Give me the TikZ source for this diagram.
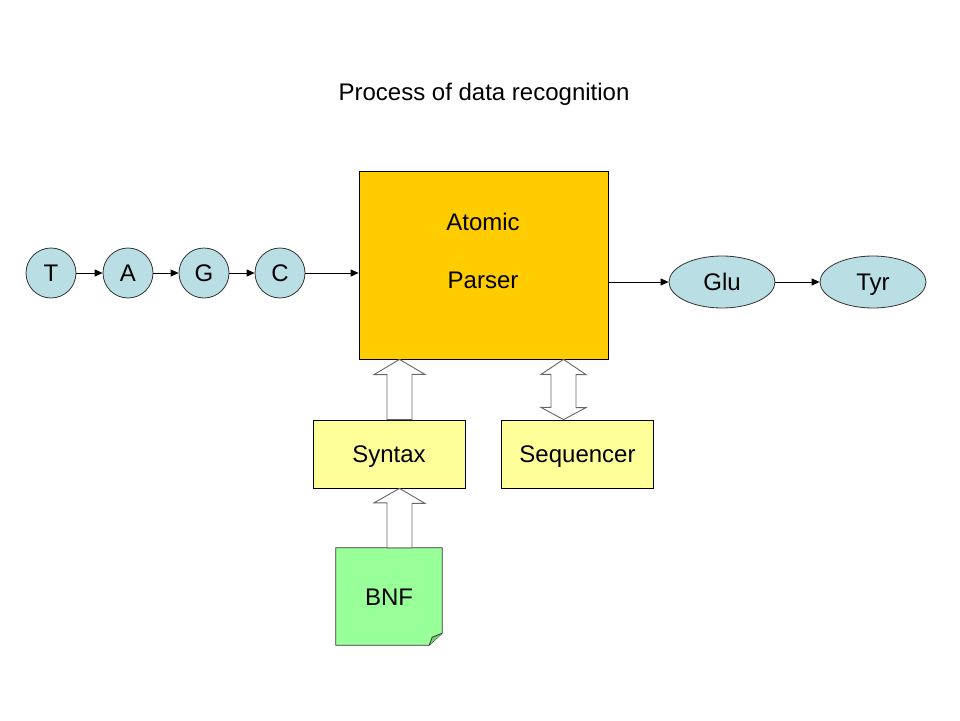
\documentclass[tikz,border=0pt]{standalone}
\usepackage{fontspec}
\setmainfont{Liberation Sans}
\usetikzlibrary{arrows.meta,shapes.geometric,calc}
\definecolor{baseblue}{HTML}{B9DFE4}
\definecolor{parserorange}{HTML}{FFCC00}
\definecolor{partyellow}{HTML}{FFFF99}
\definecolor{notegreen}{HTML}{99FF99}
\definecolor{foldgreen}{HTML}{77CC77}
\tikzset{
  every node/.style={font=\fontsize{24}{28}\selectfont, inner sep=0pt, text height=17, text depth=0},
  base/.style={circle, draw=black!80, fill=baseblue, line width=0.8pt, minimum size=50},
  acid/.style={ellipse, draw=black!80, fill=baseblue, line width=0.8pt, minimum width=106, minimum height=52},
  part/.style={rectangle, draw=black, fill=partyellow, line width=0.8pt, minimum width=152, minimum height=68},
  flow/.style={-{Triangle[length=8pt,width=7pt]}, line width=0.8pt},
  blockarrow/.style={draw=black!60, fill=white, line width=0.9pt, line join=miter}
}
\begin{document}
\begin{tikzpicture}[x=1pt, y=-1pt]
\useasboundingbox (0,0) rectangle (960,720);
\node (title) at (484,92) {Process of data recognition};
% bases
\node[base] (t) at (51,273) {T};
\node[base] (a) at (128,273) {A};
\node[base] (g) at (204,273) {G};
\node[base] (c) at (280,273) {C};
\draw[flow] (t) -- (a);
\draw[flow] (a) -- (g);
\draw[flow] (g) -- (c);
% parser
\node[rectangle, draw=black, fill=parserorange, line width=0.8pt, minimum width=249, minimum height=188] (parser) at (483.5,265) {};
\node (atomic) at (483,222) {Atomic};
\node (parsertext) at (483,280) {Parser};
\draw[flow] (c.east) -- (parser.west |- c.east);
% amino acids
\node[acid] (glu) at (722,282) {Glu};
\node[acid] (tyr) at (873,282) {Tyr};
\draw[flow] (parser.east |- glu.west) -- (glu.west);
\draw[flow] (glu) -- (tyr);
% helpers
\node[part] (syntax) at (389,454) {Syntax};
\node[part] (sequencer) at (577.5,454) {Sequencer};
\node[rectangle, minimum width=106, minimum height=97] (bnf) at (389,596.5) {};
\fill[notegreen] (bnf.north west) -- (bnf.north east) -- ($(bnf.south east)+(0,-12)$)
  -- ($(bnf.south east)+(-13,0)$) -- (bnf.south west) -- cycle;
\draw[line width=0.8pt, draw=black!80] (bnf.north west) -- (bnf.north east) -- ($(bnf.south east)+(0,-12)$)
  -- ($(bnf.south east)+(-13,0)$) -- (bnf.south west) -- cycle;
\draw[line width=0.8pt, draw=black!80, fill=foldgreen] ($(bnf.south east)+(0,-12)$)
  -- ($(bnf.south east)+(-10,-8)$) -- ($(bnf.south east)+(-13,0)$);
\node (bnftext) at (bnf.center) {BNF};
% block arrows
\coordinate (synup) at ($(syntax.north)+(10.5,0)$);
\draw[blockarrow] ($(synup)+(-12.5,0)$) -- ++(0,-45) -- ++(-13,0) -- (synup |- parser.south)
  -- ++(25.5,15) -- ++(-13,0) -- ($(synup)+(12.5,0)$) -- cycle;
\coordinate (syndown) at ($(syntax.south)+(10.5,0)$);
\draw[blockarrow] ($(syndown |- bnf.north)+(-12.5,0)$) -- ++(0,-45) -- ++(-13,0) -- (syndown)
  -- ++(25.5,15) -- ++(-13,0) -- ($(syndown |- bnf.north)+(12.5,0)$) -- cycle;
\coordinate (seqdown) at ($(sequencer.north)+(-14,0)$);
\draw[blockarrow] (seqdown) -- ++(22.5,-12) -- ++(-10,0) -- ++(0,-33) -- ++(10,0)
  -- (seqdown |- parser.south) -- ++(-22.5,15) -- ++(10,0) -- ++(0,33) -- ++(-10,0) -- cycle;
\end{tikzpicture}
\end{document}
